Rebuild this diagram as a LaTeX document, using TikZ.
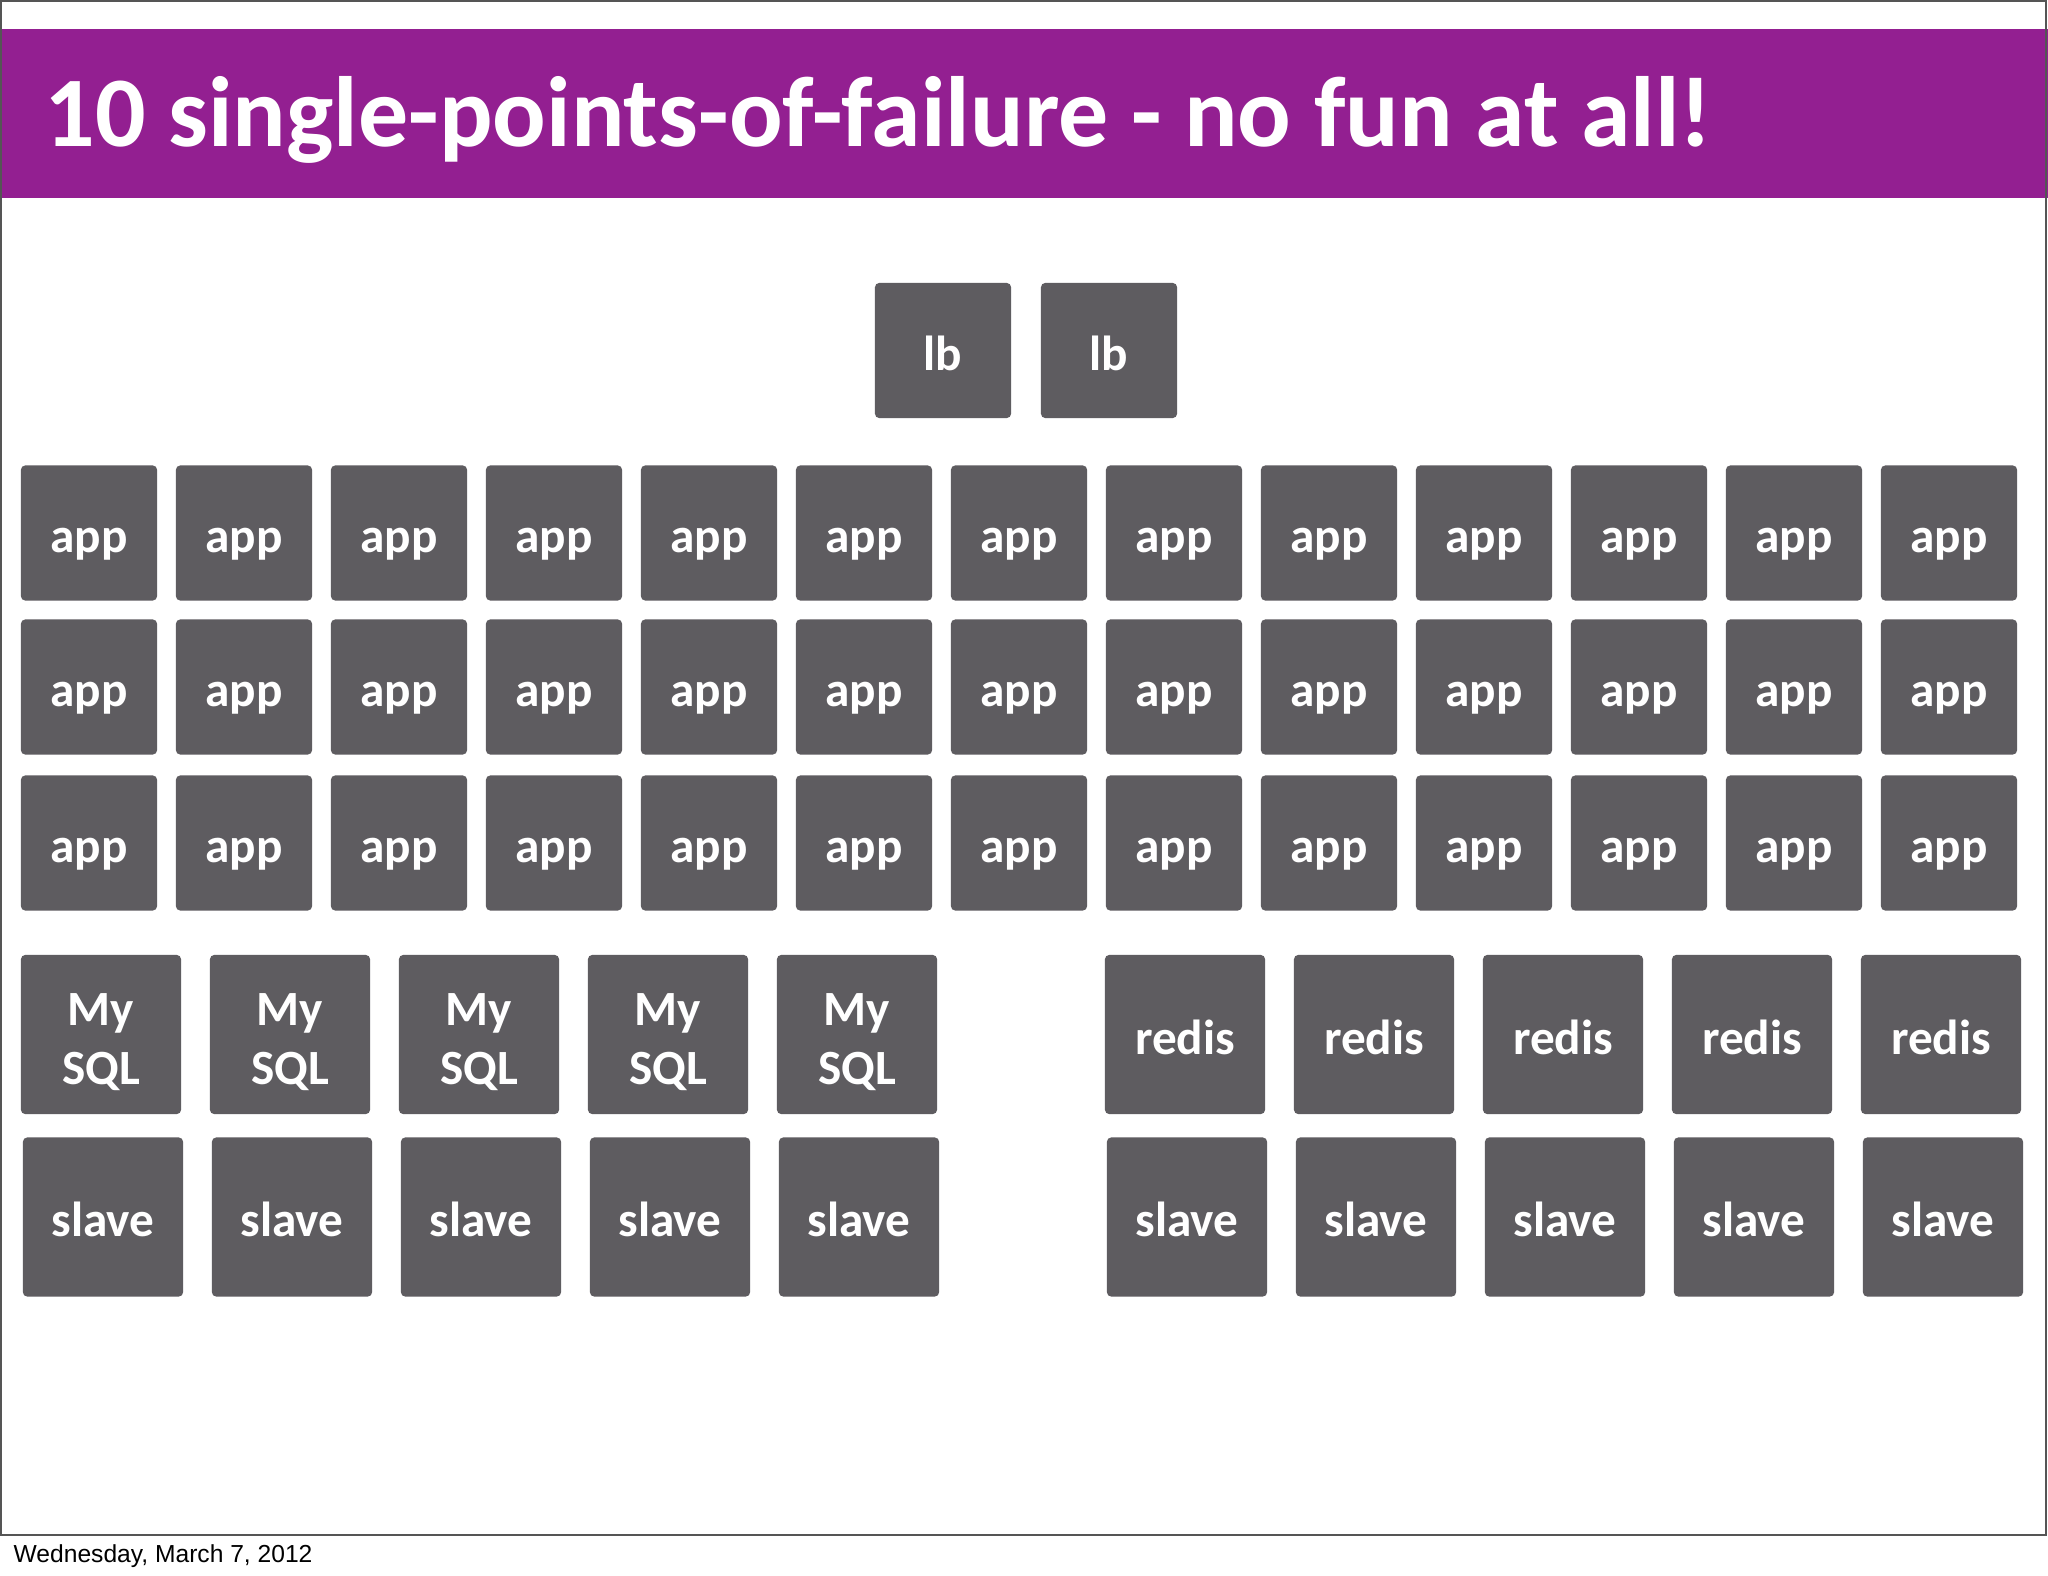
\documentclass[tikz,border=0pt]{standalone}
\usepackage{fontspec}
\setmainfont{Carlito}
\newfontfamily\datefont{Liberation Sans}
\usetikzlibrary{positioning}

\definecolor{slidepurple}{RGB}{147,31,145}
\definecolor{boxgray}{RGB}{94,92,96}
\definecolor{framegray}{RGB}{85,85,85}

\tikzset{
  server/.style={fill=boxgray, text=white, rounded corners=1.2pt, inner sep=0pt,
    align=center, text height=11.2pt, text depth=0pt,
    font=\fontsize{14}{16.8}\selectfont\bfseries},
  small box/.style={server, minimum width=1.36cm, minimum height=1.35cm},
  big box/.style={server, minimum width=1.60cm, minimum height=1.59cm},
  two lines/.style={text height=28.6pt, text depth=0pt},
  slide title/.style={text=white, inner sep=0pt, anchor=base west,
    font=\fontsize{28.4}{32}\selectfont\bfseries}
}

\begin{document}
\begin{tikzpicture}[x=0.01cm, y=-0.01cm]
	\useasboundingbox (0,0) rectangle (2048,1576);
	\fill[white] (0,0) rectangle (2048,1576);
	
	% title bar
	\fill[slidepurple] (0,29) rectangle (2048,198);
	\draw[framegray, line width=0.6pt] (1,1) rectangle (2046,1535);
	\node[slide title] (title) at (44,147) {10 single-points-of-failure - no fun at all!};
	
	% load balancers
	\node[small box] (lb1) at (943,350.5) {lb};
	\node[small box] (lb2) at (1109,350.5) {lb};
	
	% app servers
	\foreach \row/\rowy in {1/533,2/687,3/843}
		\foreach \col in {0,...,12}
			\node[small box] (app-\row-\col) at (89+155*\col,\rowy) {app};
	
	% mysql and redis, each with a slave
	\foreach \i in {0,...,4} {
		\node[big box, two lines] (mysql-\i) at (101+189*\i,1034.5) {My\\SQL};
		\node[big box] (mysqlslave-\i) at (103+189*\i,1217) {slave};
		\node[big box] (redis-\i) at (1185+189*\i,1034.5) {redis};
		\node[big box] (redisslave-\i) at (1187+189*\i,1217) {slave};
	}
	
	\node[anchor=base west, inner sep=0pt, font=\datefont\fontsize{7}{8}\selectfont] (date) at (13,1562) {Wednesday, March 7, 2012};
\end{tikzpicture}
\end{document}
